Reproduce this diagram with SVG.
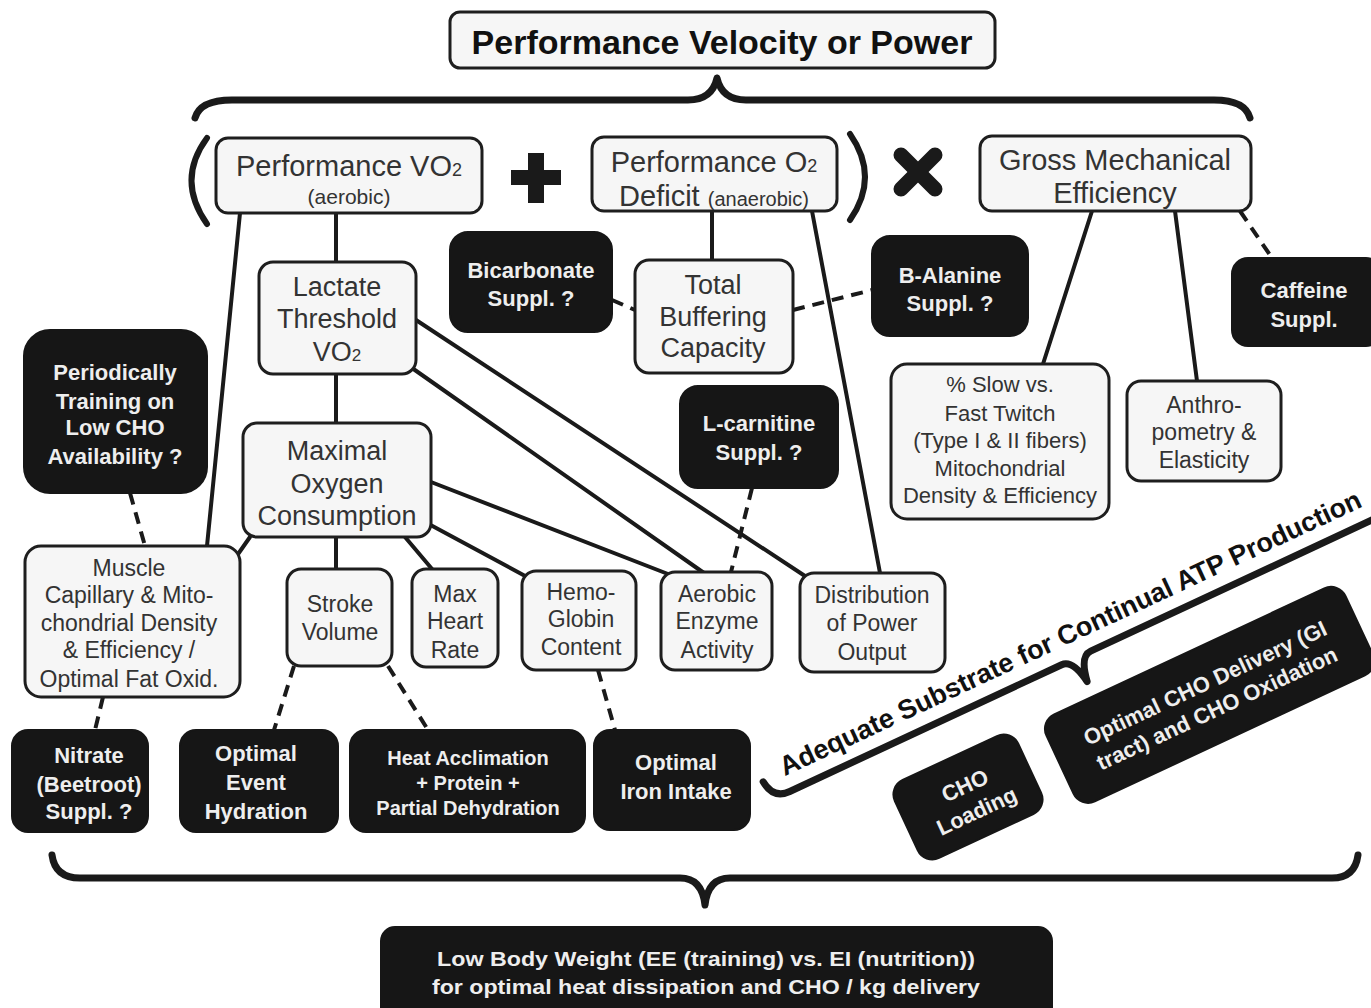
<svg xmlns="http://www.w3.org/2000/svg" width="1371" height="1008" viewBox="0 0 1371 1008">
<style>
.lb rect{fill:#f6f6f6;stroke:#1e1e1e;stroke-width:3}
.db rect{fill:#161616;stroke:#161616;stroke-width:2}
.lt{font-family:"Liberation Sans",Arial,sans-serif;fill:#333;text-anchor:middle}
.dt{font-family:"Liberation Sans",Arial,sans-serif;font-weight:bold;fill:#eeeeee;text-anchor:middle}
.s23{font-size:23px}.s27{font-size:27px}.s29{font-size:29px}.s22{font-size:22px}
.c{stroke:#1a1a1a;stroke-width:4;fill:none;stroke-linecap:round}
.d{stroke-dasharray:12 8;stroke-linecap:butt}
.br{stroke:#1a1a1a;stroke-width:7;fill:none;stroke-linecap:round;stroke-linejoin:round}
</style>
<rect width="1371" height="1008" fill="#ffffff"/>

<g id="connectors">
  <line class="c" x1="240" y1="213" x2="207" y2="546"/>
  <line class="c" x1="336" y1="213" x2="336" y2="262"/>
  <line class="c" x1="336" y1="374" x2="336" y2="423"/>
  <line class="c" x1="712" y1="211" x2="712" y2="260"/>
  <line class="c" x1="812" y1="211" x2="880" y2="573"/>
  <line class="c" x1="1092" y1="211" x2="1043" y2="364"/>
  <line class="c" x1="1175" y1="211" x2="1197" y2="381"/>
  <line class="c d" x1="1240" y1="211" x2="1272" y2="258"/>
  <line class="c d" x1="612" y1="300" x2="635" y2="310"/>
  <line class="c d" x1="793" y1="310" x2="872" y2="290"/>
  <line class="c d" x1="130" y1="493" x2="145" y2="546"/>
  <line class="c" x1="416" y1="320" x2="808" y2="578"/>
  <line class="c" x1="412" y1="368" x2="704" y2="573"/>
  <line class="c" x1="431" y1="482" x2="668" y2="574"/>
  <line class="c" x1="425" y1="522" x2="527" y2="577"/>
  <line class="c" x1="405" y1="537" x2="432" y2="569"/>
  <line class="c" x1="336" y1="537" x2="336" y2="569"/>
  <line class="c" x1="250" y1="537" x2="236" y2="557"/>
  <line class="c d" x1="752" y1="488" x2="731" y2="572"/>
  <line class="c d" x1="103" y1="697" x2="95" y2="730"/>
  <line class="c d" x1="294" y1="666" x2="274" y2="730"/>
  <line class="c d" x1="388" y1="666" x2="428" y2="730"/>
  <line class="c d" x1="598" y1="670" x2="615" y2="730"/>
</g>

<g id="braces">
  <path class="br" d="M195,118 Q200,100 232,100 L688,100 Q712,100 717,78 Q722,100 746,100 L1214,100 Q1245,100 1250,118"/>
  <path class="br" d="M52,855 Q55,878 80,878 L680,878 Q702,878 705,905 Q708,878 730,878 L1332,878 Q1355,878 1358,855"/>
  <path d="M207,138 Q176,180 207,224" stroke="#1a1a1a" stroke-width="6" fill="none" stroke-linecap="round"/>
  <path d="M850,134 Q880,177 850,220" stroke="#1a1a1a" stroke-width="6" fill="none" stroke-linecap="round"/>
</g>

<g id="operators">
  <rect x="511" y="170" width="50" height="15" fill="#1a1a1a"/>
  <rect x="528" y="153" width="16" height="50" fill="#1a1a1a"/>
  <line x1="901" y1="155" x2="935" y2="189" stroke="#1a1a1a" stroke-width="15" stroke-linecap="round"/>
  <line x1="935" y1="155" x2="901" y2="189" stroke="#1a1a1a" stroke-width="15" stroke-linecap="round"/>
</g>

<g id="title" class="lb">
  <rect x="450" y="12" width="545" height="56" rx="10"/>
  <text x="722" y="54" style="font-family:'Liberation Sans',Arial,sans-serif;font-weight:bold;font-size:34px;fill:#111;text-anchor:middle">Performance Velocity or Power</text>
</g>

<g id="perf-vo2" class="lb">
  <rect x="216" y="138" width="266" height="75" rx="12"/>
  <text class="lt s29" x="349" y="176">Performance VO<tspan font-size="18">2</tspan></text>
  <text class="lt" x="349" y="204" font-size="21">(aerobic)</text>
</g>

<g id="perf-o2" class="lb">
  <rect x="592" y="137" width="245" height="74" rx="12"/>
  <text class="lt s29" x="714" y="172">Performance O<tspan font-size="18">2</tspan></text>
  <text class="lt s29" x="714" y="206">Deficit <tspan font-size="20">(anaerobic)</tspan></text>
</g>

<g id="gross" class="lb">
  <rect x="980" y="136" width="271" height="75" rx="12"/>
  <text class="lt s29" x="1115" y="170">Gross Mechanical</text>
  <text class="lt s29" x="1115" y="203">Efficiency</text>
</g>

<g id="lactate" class="lb">
  <rect x="259" y="262" width="157" height="112" rx="14"/>
  <text class="lt s27" x="337" y="296">Lactate</text>
  <text class="lt s27" x="337" y="328">Threshold</text>
  <text class="lt s27" x="337" y="361">VO<tspan font-size="17">2</tspan></text>
</g>

<g id="buffer" class="lb">
  <rect x="635" y="260" width="158" height="113" rx="14"/>
  <text class="lt s27" x="713" y="294">Total</text>
  <text class="lt s27" x="713" y="326">Buffering</text>
  <text class="lt s27" x="713" y="357">Capacity</text>
</g>

<g id="maxo2" class="lb">
  <rect x="243" y="423" width="188" height="114" rx="14"/>
  <text class="lt s27" x="337" y="460">Maximal</text>
  <text class="lt s27" x="337" y="493">Oxygen</text>
  <text class="lt s27" x="337" y="525">Consumption</text>
</g>

<g id="slow" class="lb">
  <rect x="891" y="364" width="218" height="155" rx="16"/>
  <text class="lt s22" x="1000" y="392">% Slow vs.</text>
  <text class="lt s22" x="1000" y="421">Fast Twitch</text>
  <text class="lt s22" x="1000" y="448">(Type I &amp; II fibers)</text>
  <text class="lt s22" x="1000" y="476">Mitochondrial</text>
  <text class="lt s22" x="1000" y="503">Density &amp; Efficiency</text>
</g>

<g id="anthro" class="lb">
  <rect x="1127" y="381" width="154" height="100" rx="14"/>
  <text class="lt s23" x="1204" y="413">Anthro-</text>
  <text class="lt s23" x="1204" y="440">pometry &amp;</text>
  <text class="lt s23" x="1204" y="468">Elasticity</text>
</g>

<g id="muscle" class="lb">
  <rect x="25" y="546" width="215" height="151" rx="16"/>
  <text class="lt s23" x="129" y="576">Muscle</text>
  <text class="lt s23" x="129" y="603">Capillary &amp; Mito-</text>
  <text class="lt s23" x="129" y="631">chondrial Density</text>
  <text class="lt s23" x="129" y="658">&amp; Efficiency /</text>
  <text class="lt s23" x="129" y="687">Optimal Fat Oxid.</text>
</g>

<g id="stroke" class="lb">
  <rect x="287" y="569" width="105" height="97" rx="14"/>
  <text class="lt s23" x="340" y="612">Stroke</text>
  <text class="lt s23" x="340" y="640">Volume</text>
</g>

<g id="maxhr" class="lb">
  <rect x="412" y="569" width="86" height="98" rx="14"/>
  <text class="lt s23" x="455" y="602">Max</text>
  <text class="lt s23" x="455" y="629">Heart</text>
  <text class="lt s23" x="455" y="658">Rate</text>
</g>

<g id="hemo" class="lb">
  <rect x="522" y="571" width="114" height="99" rx="14"/>
  <text class="lt s23" x="581" y="600">Hemo-</text>
  <text class="lt s23" x="581" y="627">Globin</text>
  <text class="lt s23" x="581" y="655">Content</text>
</g>

<g id="aerobic" class="lb">
  <rect x="661" y="572" width="111" height="98" rx="14"/>
  <text class="lt s23" x="717" y="602">Aerobic</text>
  <text class="lt s23" x="717" y="629">Enzyme</text>
  <text class="lt s23" x="717" y="658">Activity</text>
</g>

<g id="distribution" class="lb">
  <rect x="800" y="573" width="145" height="99" rx="14"/>
  <text class="lt s23" x="872" y="603">Distribution</text>
  <text class="lt s23" x="872" y="631">of Power</text>
  <text class="lt s23" x="872" y="660">Output</text>
</g>

<g id="bicarbonate" class="db">
  <rect x="450" y="232" width="162" height="100" rx="18"/>
  <text class="dt s22" x="531" y="278">Bicarbonate</text>
  <text class="dt s22" x="531" y="306">Suppl. ?</text>
</g>

<g id="balanine" class="db">
  <rect x="872" y="236" width="156" height="100" rx="18"/>
  <text class="dt s22" x="950" y="283">B-Alanine</text>
  <text class="dt s22" x="950" y="311">Suppl. ?</text>
</g>

<g id="caffeine" class="db">
  <rect x="1232" y="258" width="150" height="88" rx="16"/>
  <text class="dt s22" x="1304" y="298">Caffeine</text>
  <text class="dt s22" x="1304" y="327">Suppl.</text>
</g>

<g id="periodic" class="db">
  <rect x="24" y="330" width="183" height="163" rx="26"/>
  <text class="dt s22" x="115" y="380">Periodically</text>
  <text class="dt s22" x="115" y="409">Training on</text>
  <text class="dt s22" x="115" y="435">Low CHO</text>
  <text class="dt s22" x="115" y="464">Availability ?</text>
</g>

<g id="lcarnitine" class="db">
  <rect x="680" y="386" width="158" height="102" rx="18"/>
  <text class="dt s22" x="759" y="431">L-carnitine</text>
  <text class="dt s22" x="759" y="460">Suppl. ?</text>
</g>

<g id="nitrate" class="db">
  <rect x="12" y="730" width="136" height="102" rx="16"/>
  <text class="dt s22" x="89" y="763">Nitrate</text>
  <text class="dt s22" x="89" y="792">(Beetroot)</text>
  <text class="dt s22" x="89" y="819">Suppl. ?</text>
</g>

<g id="hydration" class="db">
  <rect x="180" y="730" width="158" height="102" rx="16"/>
  <text class="dt s22" x="256" y="761">Optimal</text>
  <text class="dt s22" x="256" y="790">Event</text>
  <text class="dt s22" x="256" y="819">Hydration</text>
</g>

<g id="heat" class="db">
  <rect x="350" y="730" width="235" height="102" rx="16"/>
  <text class="dt" font-size="20" x="468" y="765">Heat Acclimation</text>
  <text class="dt" font-size="20" x="468" y="790">+ Protein +</text>
  <text class="dt" font-size="20" x="468" y="815">Partial Dehydration</text>
</g>

<g id="iron" class="db">
  <rect x="594" y="730" width="156" height="100" rx="16"/>
  <text class="dt s22" x="676" y="770">Optimal</text>
  <text class="dt s22" x="676" y="799">Iron Intake</text>
</g>

<g id="lowbw" class="db">
  <rect x="381" y="927" width="671" height="95" rx="14"/>
  <text class="dt" font-size="21" x="706" y="966" textLength="538" lengthAdjust="spacingAndGlyphs">Low Body Weight (EE (training) vs. EI (nutrition))</text>
  <text class="dt" font-size="21" x="706" y="994" textLength="548" lengthAdjust="spacingAndGlyphs">for optimal heat dissipation and CHO / kg delivery</text>
</g>

<g id="substrate" transform="translate(783,777) rotate(-25)">
  <text x="2" y="0" style="font-family:'Liberation Sans',Arial,sans-serif;font-weight:bold;font-size:27px;fill:#111">Adequate Substrate for Continual ATP Production</text>
  <path class="br" d="M-20,-4 Q-18,16 0,16 L300,16 Q312,16 316,42 Q320,16 332,16 L650,16 Q668,16 672,0"/>
</g>

<g id="cho-loading" class="db" transform="translate(968,797) rotate(-25)">
  <rect x="-68" y="-43" width="136" height="86" rx="16"/>
  <text class="dt s22" x="2" y="-4">CHO</text>
  <text class="dt s22" x="2" y="24">Loading</text>
</g>

<g id="cho-delivery" class="db" transform="translate(1205,697) rotate(-25)">
  <rect x="-160" y="-48" width="330" height="96" rx="16"/>
  <text class="dt s22" x="6" y="-5">Optimal CHO Delivery (GI</text>
  <text class="dt s22" x="6" y="23">tract) and CHO Oxidation</text>
</g>
</svg>
